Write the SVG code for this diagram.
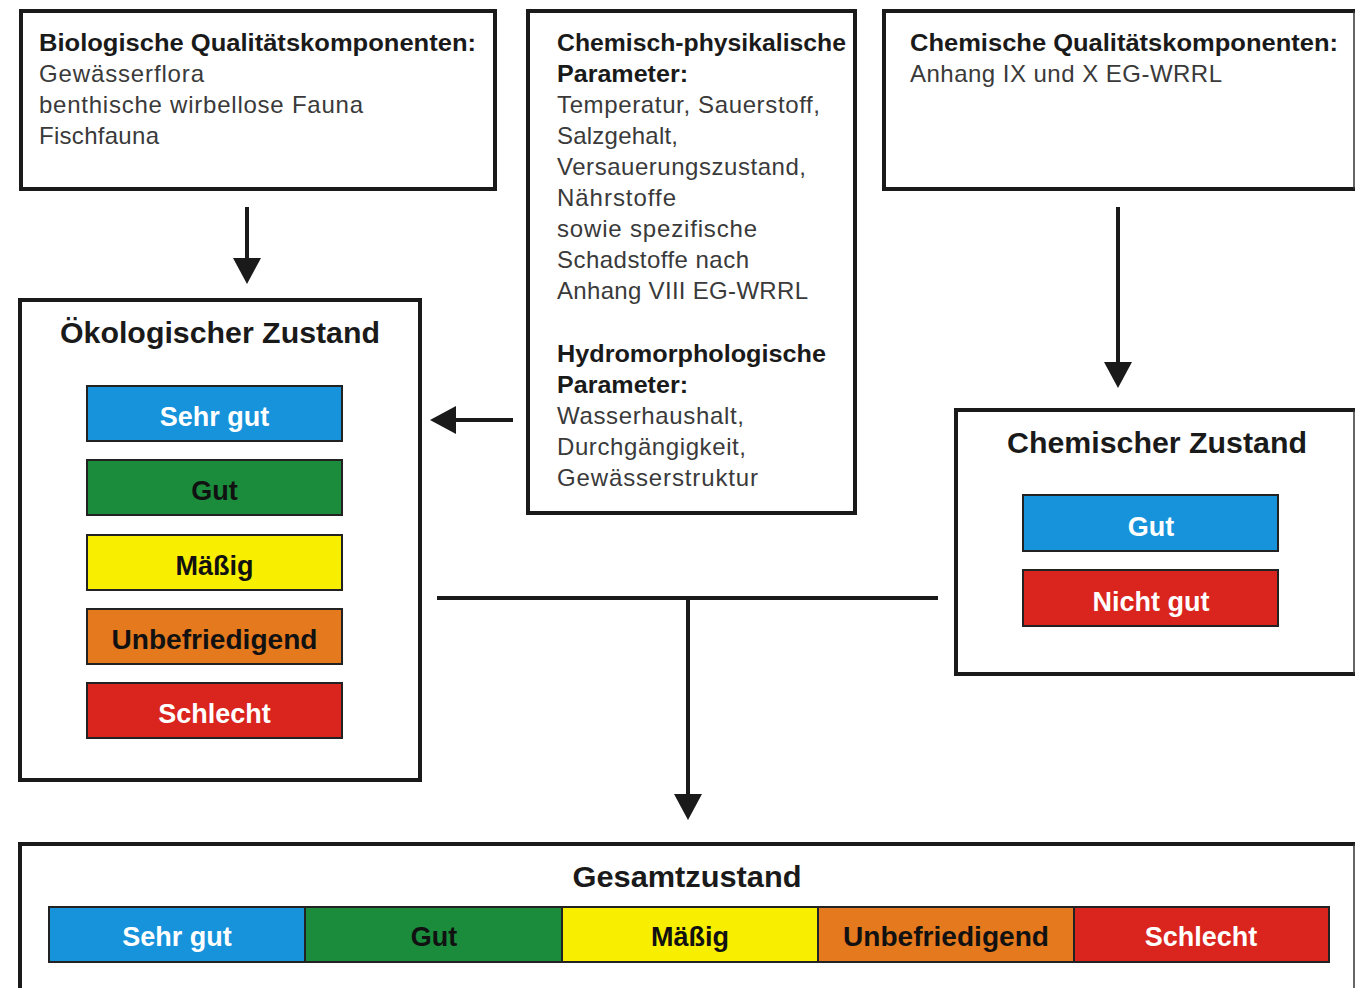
<svg xmlns="http://www.w3.org/2000/svg" width="1355" height="988" viewBox="0 0 1355 988">
<defs>
<style>
.box{fill:#fff;stroke:#1a1a1a;stroke-width:4}
.open{fill:#fff;stroke:#1a1a1a;stroke-width:4}
.edge{stroke:#333;stroke-width:1.5}
.bar{stroke:#222;stroke-width:2}
.h{font-family:"Liberation Sans",Arial,sans-serif;font-weight:bold;fill:#1a1a1a;font-size:23px}
.t{font-family:"Liberation Sans",Arial,sans-serif;fill:#3a3a3a;font-size:24px}
.title{font-family:"Liberation Sans",Arial,sans-serif;font-weight:bold;fill:#1a1a1a;font-size:29px;text-anchor:middle}
.lbl{font-family:"Liberation Sans",Arial,sans-serif;font-weight:bold;font-size:27px;text-anchor:middle}
.w{fill:#fff}
.k{fill:#111}
.blue{fill:#1793db}
.green{fill:#1a8c3c}
.yellow{fill:#f8ee00}
.orange{fill:#e4791e}
.red{fill:#da241e}
.conn{stroke:#1a1a1a;stroke-width:4;fill:none}
</style>
<marker id="ah" markerUnits="userSpaceOnUse" markerWidth="26" markerHeight="28" viewBox="0 0 26 28" refX="0" refY="14" orient="auto">
<path d="M0,0 L26,14 L0,28 z" fill="#1a1a1a"/>
</marker>
</defs>
<rect width="1355" height="988" fill="#fff"/>

<g id="connectors">
<line class="conn" x1="247" y1="207" x2="247" y2="258" marker-end="url(#ah)"/>
<line class="conn" x1="513" y1="420" x2="456" y2="420" marker-end="url(#ah)"/>
<line class="conn" x1="1118" y1="207" x2="1118" y2="362" marker-end="url(#ah)"/>
<line class="conn" x1="437" y1="598" x2="938" y2="598"/>
<line class="conn" x1="688" y1="598" x2="688" y2="794" marker-end="url(#ah)"/>
</g>

<g id="bio">
<rect class="box" x="21" y="11" width="474" height="178"/>
<text class="h" x="39" y="51" textLength="437" lengthAdjust="spacingAndGlyphs">Biologische Qualitätskomponenten:</text>
<text class="t" x="39" y="82" textLength="165">Gewässerflora</text>
<text class="t" x="39" y="113" textLength="324">benthische wirbellose Fauna</text>
<text class="t" x="39" y="144" textLength="120">Fischfauna</text>
</g>

<g id="chemphys">
<rect class="box" x="528" y="11" width="327" height="502"/>
<text class="h" x="557" y="51" textLength="289" lengthAdjust="spacingAndGlyphs">Chemisch-physikalische</text>
<text class="h" x="557" y="82" textLength="131" lengthAdjust="spacingAndGlyphs">Parameter:</text>
<text class="t" x="557" y="113" textLength="263">Temperatur, Sauerstoff,</text>
<text class="t" x="557" y="144" textLength="121">Salzgehalt,</text>
<text class="t" x="557" y="175" textLength="249">Versauerungszustand,</text>
<text class="t" x="557" y="206" textLength="119">Nährstoffe</text>
<text class="t" x="557" y="237" textLength="200">sowie spezifische</text>
<text class="t" x="557" y="268" textLength="192">Schadstoffe nach</text>
<text class="t" x="557" y="299" textLength="251">Anhang VIII EG-WRRL</text>
<text class="h" x="557" y="362" textLength="269" lengthAdjust="spacingAndGlyphs">Hydromorphologische</text>
<text class="h" x="557" y="393" textLength="131" lengthAdjust="spacingAndGlyphs">Parameter:</text>
<text class="t" x="557" y="424" textLength="187">Wasserhaushalt,</text>
<text class="t" x="557" y="455" textLength="189">Durchgängigkeit,</text>
<text class="t" x="557" y="486" textLength="201">Gewässerstruktur</text>
</g>

<g id="chemqual">
<path class="open" d="M1355,11 H884 V189 H1355"/>
<line class="edge" x1="1354" y1="11" x2="1354" y2="189"/>
<text class="h" x="910" y="51" textLength="428" lengthAdjust="spacingAndGlyphs">Chemische Qualitätskomponenten:</text>
<text class="t" x="910" y="82" textLength="312">Anhang IX und X EG-WRRL</text>
</g>

<g id="oeko">
<rect class="box" x="20" y="300" width="400" height="480"/>
<text class="title" x="220" y="343" textLength="320" lengthAdjust="spacingAndGlyphs">Ökologischer Zustand</text>
<rect class="bar blue" x="87" y="386" width="255" height="55"/>
<text class="lbl w" x="214.5" y="426">Sehr gut</text>
<rect class="bar green" x="87" y="460" width="255" height="55"/>
<text class="lbl k" x="214.5" y="500">Gut</text>
<rect class="bar yellow" x="87" y="535" width="255" height="55"/>
<text class="lbl k" x="214.5" y="575">Mäßig</text>
<rect class="bar orange" x="87" y="609" width="255" height="55"/>
<text class="lbl k" x="214.5" y="649" textLength="206" lengthAdjust="spacingAndGlyphs">Unbefriedigend</text>
<rect class="bar red" x="87" y="683" width="255" height="55"/>
<text class="lbl w" x="214.5" y="723">Schlecht</text>
</g>

<g id="chemzustand">
<path class="open" d="M1355,410 H956 V674 H1355"/>
<line class="edge" x1="1354" y1="410" x2="1354" y2="674"/>
<text class="title" x="1157" y="453" textLength="300" lengthAdjust="spacingAndGlyphs">Chemischer Zustand</text>
<rect class="bar blue" x="1023" y="495" width="255" height="56"/>
<text class="lbl w" x="1151" y="536">Gut</text>
<rect class="bar red" x="1023" y="570" width="255" height="56"/>
<text class="lbl w" x="1151" y="611">Nicht gut</text>
</g>

<g id="gesamt">
<path class="open" d="M1355,844 H20 V1000"/>
<line class="edge" x1="1354" y1="844" x2="1354" y2="988"/>
<text class="title" x="687" y="887" textLength="229" lengthAdjust="spacingAndGlyphs">Gesamtzustand</text>
<rect class="bar blue" x="49" y="907" width="256" height="55"/>
<rect class="bar green" x="305" y="907" width="257" height="55"/>
<rect class="bar yellow" x="562" y="907" width="256" height="55"/>
<rect class="bar orange" x="818" y="907" width="256" height="55"/>
<rect class="bar red" x="1074" y="907" width="255" height="55"/>
<text class="lbl w" x="177" y="946">Sehr gut</text>
<text class="lbl k" x="434" y="946">Gut</text>
<text class="lbl k" x="690" y="946">Mäßig</text>
<text class="lbl k" x="946" y="946" textLength="206" lengthAdjust="spacingAndGlyphs">Unbefriedigend</text>
<text class="lbl w" x="1201" y="946">Schlecht</text>
</g>
</svg>
